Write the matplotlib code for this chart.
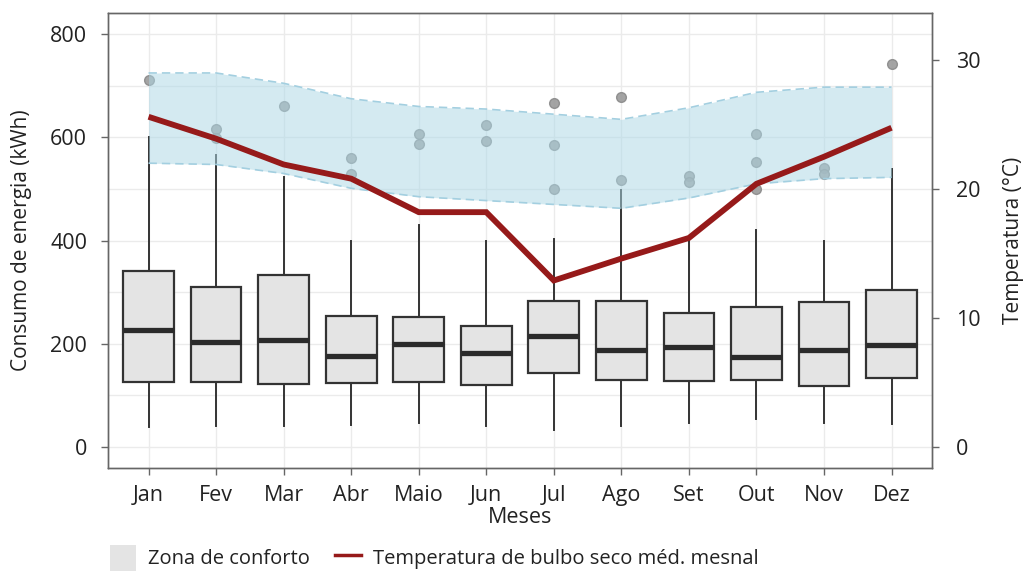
import matplotlib
matplotlib.use("Agg")
import matplotlib.pyplot as plt
from matplotlib.lines import Line2D
from matplotlib.patches import Patch
import numpy as np

plt.rcParams['font.family'] = ['Open Sans', 'DejaVu Sans']

meses = ["Jan", "Fev", "Mar", "Abr", "Maio", "Jun", "Jul", "Ago", "Set", "Out", "Nov", "Dez"]

# boxplot stats (kWh)
q1 = [125, 126, 122, 123, 125, 120, 143, 130, 127, 130, 118, 134]
med = [227, 203, 208, 176, 199, 181, 214, 188, 193, 174, 188, 197]
q3 = [341, 309, 333, 254, 252, 234, 283, 283, 259, 272, 281, 305]
whis_lo = [39, 41, 41, 43, 46, 41, 33, 41, 46, 54, 46, 45]
whis_hi = [600, 565, 523, 400, 430, 400, 402, 498, 402, 421, 400, 538]
outliers = [
    [711],
    [616, 598],
    [660],
    [560, 529],
    [606, 587],
    [625, 593],
    [667, 585, 499],
    [678, 518],
    [525, 514],
    [607, 553, 499],
    [541, 529],
    [742],
]

# temperature (°C)
temp_media = [25.6, 23.9, 21.9, 20.8, 18.2, 18.2, 12.9, 14.6, 16.2, 20.4, 22.5, 24.75]
conforto_sup = [29.0, 29.0, 28.2, 27.0, 26.4, 26.2, 25.8, 25.4, 26.3, 27.5, 27.9, 27.9]
conforto_inf = [22.0, 21.9, 21.2, 20.05, 19.4, 19.1, 18.8, 18.5, 19.3, 20.4, 20.8, 20.9]

x = np.arange(1, 13)
txt = '#222222'
spine_c = '#666666'

fig = plt.figure(figsize=(10.23, 5.72), dpi=100)
ax = fig.add_axes([0.1056, 0.182, 0.8055, 0.795])

stats = []
for i in range(12):
    stats.append(dict(med=med[i], q1=q1[i], q3=q3[i], whislo=whis_lo[i],
                      whishi=whis_hi[i], fliers=outliers[i]))

ax.bxp(stats, positions=x, widths=0.75, patch_artist=True, showcaps=False,
       boxprops=dict(facecolor='#e4e4e4', edgecolor='#333333', linewidth=1.6),
       medianprops=dict(color='#2b2b2b', linewidth=3.8),
       whiskerprops=dict(color='#333333', linewidth=1.4),
       flierprops=dict(marker='o', markersize=7, markerfacecolor='#9a9a9a',
                       markeredgecolor='#8a8a8a', alpha=0.9),
       zorder=3)

ax.set_xlim(0.4, 12.6)
ax.set_ylim(-41, 841)
ax.set_yticks([0, 200, 400, 600, 800])
ax.set_yticks([100, 300, 500, 700], minor=True)
ax.set_xticks(x)
ax.set_xticklabels(meses)
ax.grid(True, which='both', color='#ebebeb', linewidth=1.0, zorder=0)
ax.set_axisbelow(True)
ax.tick_params(axis='both', which='major', labelsize=15.5, colors=spine_c,
               labelcolor=txt, length=5, width=1.0)
ax.tick_params(axis='y', which='major', pad=10)
ax.tick_params(axis='x', which='major', pad=7)
ax.tick_params(axis='y', which='minor', length=0)
ax.set_xlabel("Meses", fontsize=15.5, color=txt, labelpad=1)
ax.set_ylabel("Consumo de energia (kWh)", fontsize=15, color=txt, labelpad=13)
for s in ax.spines.values():
    s.set_color(spine_c)
    s.set_linewidth(1.0)

ax2 = ax.twinx()
ax2.set_ylim(-41 / 25, 841 / 25)
ax2.fill_between(x, conforto_inf, conforto_sup, color='#add8e6', alpha=0.52,
                 linewidth=0, zorder=1)
ax2.plot(x, conforto_sup, color='#a3cfe0', linestyle=(0, (5, 3)), linewidth=1.2, zorder=2)
ax2.plot(x, conforto_inf, color='#a3cfe0', linestyle=(0, (5, 3)), linewidth=1.2, zorder=2)
ax2.plot(x, temp_media, color='#961a1a', linewidth=4.2, solid_capstyle='butt',
         solid_joinstyle='miter', zorder=4)
ax2.set_yticks([0, 10, 20, 30])
ax2.tick_params(axis='y', labelsize=15.5, colors=spine_c, labelcolor=txt,
                length=5, width=1.0, pad=12)
ax2.set_ylabel("Temperatura (°C)", fontsize=15, color=txt, labelpad=16)
for s in ax2.spines.values():
    s.set_color(spine_c)
    s.set_linewidth(1.0)

handles = [Patch(facecolor='#e4e4e4', edgecolor='none'),
           Line2D([0], [0], color='#961a1a', linewidth=2.5)]
fig.legend(handles, ["Zona de conforto", "Temperatura de bulbo seco méd. mesnal"],
           loc='center left', bbox_to_anchor=(0.09, 0.025), ncol=2, frameon=False,
           fontsize=14.5, handlelength=1.3, handleheight=1.6, columnspacing=1.2,
           handletextpad=0.6, labelcolor=txt)

fig.savefig("out.png", dpi=100)
